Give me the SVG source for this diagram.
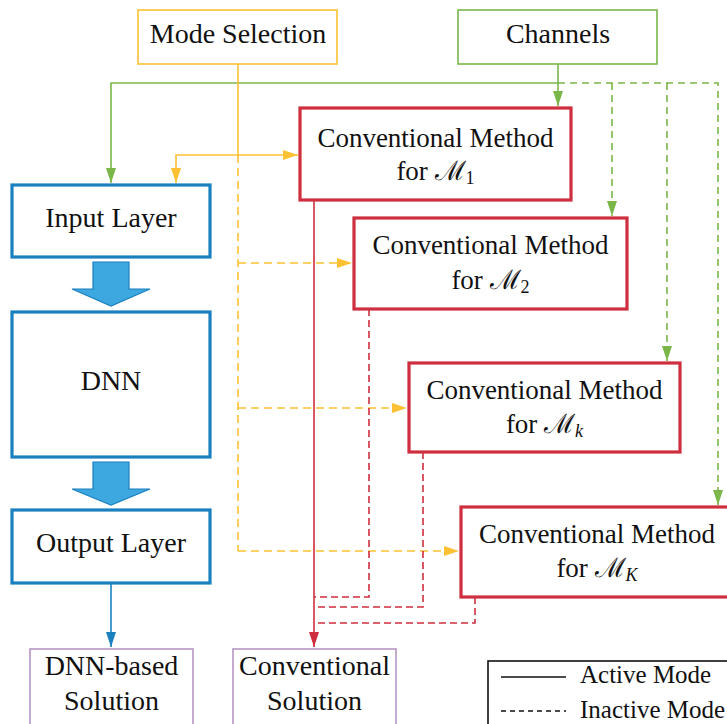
<svg xmlns="http://www.w3.org/2000/svg" width="727" height="724" viewBox="0 0 727 724">
<style>
text{fill:#111;text-anchor:middle}
.lt{text-anchor:start}
.ys{stroke:#FDC133;stroke-width:1.6;fill:none}
.yd{stroke:#FDC133;stroke-width:1.6;fill:none;stroke-dasharray:8 5}
.gs{stroke:#7AB648;stroke-width:1.6;fill:none}
.gd{stroke:#7AB648;stroke-width:1.6;fill:none;stroke-dasharray:7 5}
.rs{stroke:#CF2E3E;stroke-width:1.6;fill:none}
.rd{stroke:#CF2E3E;stroke-width:1.6;fill:none;stroke-dasharray:7 4}
.bs{stroke:#1A80C0;stroke-width:1.6;fill:none}
.top{fill:#fff;stroke-width:1.6}
.blue{fill:#fff;stroke:#1A80C0;stroke-width:3.2}
.red{fill:#fff;stroke:#CF2E3E;stroke-width:3.2}
.pur{fill:#fff;stroke:#B794C4;stroke-width:1.6}
.blk{fill:#3DA8DF;stroke:#1A80C0;stroke-width:1.2}
</style>
<defs>
<marker id="ay" markerUnits="userSpaceOnUse" markerWidth="16" markerHeight="11" refX="15" refY="5" orient="auto"><path d="M0,0 L15,5 L0,10 Z" fill="#FDC133"/></marker>
<marker id="ag" markerUnits="userSpaceOnUse" markerWidth="16" markerHeight="11" refX="15" refY="5" orient="auto"><path d="M0,0 L15,5 L0,10 Z" fill="#7AB648"/></marker>
<marker id="ar" markerUnits="userSpaceOnUse" markerWidth="16" markerHeight="11" refX="15" refY="5" orient="auto"><path d="M0,0 L15,5 L0,10 Z" fill="#CF2E3E"/></marker>
<marker id="ab" markerUnits="userSpaceOnUse" markerWidth="16" markerHeight="11" refX="15" refY="5" orient="auto"><path d="M0,0 L15,5 L0,10 Z" fill="#1A80C0"/></marker>
</defs>

<g id="connectors">
<path class="gs" d="M558,64 V83 H111 V183" marker-end="url(#ag)"/>
<path class="gs" d="M558,83 V106" marker-end="url(#ag)"/>
<path class="gd" d="M558,83 H718 V505" marker-end="url(#ag)"/>
<path class="gd" d="M612,83 V216" marker-end="url(#ag)"/>
<path class="gd" d="M667,83 V361" marker-end="url(#ag)"/>
<path class="ys" d="M238,64 V155"/>
<path class="ys" d="M238,155 H176 V183" marker-end="url(#ay)"/>
<path class="ys" d="M238,155 H298" marker-end="url(#ay)"/>
<path class="yd" d="M238,155 V551"/>
<path class="yd" d="M238,263 H352" marker-end="url(#ay)"/>
<path class="yd" d="M238,408 H407" marker-end="url(#ay)"/>
<path class="yd" d="M238,551 H459" marker-end="url(#ay)"/>
<path class="rs" d="M314,200 V647" marker-end="url(#ar)"/>
<path class="rd" d="M369,309 V597 H314"/>
<path class="rd" d="M423,452 V607 H314"/>
<path class="rd" d="M475,597 V623 H314"/>
<path class="bs" d="M111,583 V647" marker-end="url(#ab)"/>
<path class="blk" d="M93,262 H129 V289 H150 L111,306 L72,289 H93 Z"/>
<path class="blk" d="M93,462 H129 V489 H150 L111,505 L72,489 H93 Z"/>
</g>

<g font-family="Liberation Serif, Times New Roman, serif" font-size="28">
<g id="mode-selection">
<rect class="top" x="138" y="10" width="199" height="54" stroke="#FDC133"/>
<text x="238" y="43">Mode Selection</text>
</g>
<g id="channels">
<rect class="top" x="458" y="10" width="199" height="54" stroke="#7AB648"/>
<text x="558" y="43">Channels</text>
</g>

<g id="input-layer">
<rect class="blue" x="12" y="185" width="198" height="72"/>
<text x="111" y="227">Input Layer</text>
</g>
<g id="dnn">
<rect class="blue" x="12" y="312" width="198" height="145"/>
<text x="111" y="390">DNN</text>
</g>
<g id="output-layer">
<rect class="blue" x="12" y="510" width="198" height="73"/>
<text x="111" y="552">Output Layer</text>
</g>

<g id="method-1" font-size="27">
<rect class="red" x="300" y="108" width="271" height="92"/>
<text x="435.5" y="147">Conventional Method</text>
<text x="435.5" y="180">for ℳ<tspan font-size="18" dy="4">1</tspan></text>
</g>
<g id="method-2" font-size="27">
<rect class="red" x="354" y="218" width="273" height="91"/>
<text x="490.5" y="254">Conventional Method</text>
<text x="490.5" y="289">for ℳ<tspan font-size="18" dy="4">2</tspan></text>
</g>
<g id="method-k" font-size="27">
<rect class="red" x="409" y="363" width="271" height="89"/>
<text x="544.5" y="399">Conventional Method</text>
<text x="544.5" y="433">for ℳ<tspan font-size="18" font-style="italic" dy="4">k</tspan></text>
</g>
<g id="method-K" font-size="27">
<rect class="red" x="461" y="507" width="280" height="90"/>
<text x="597" y="543">Conventional Method</text>
<text x="597" y="577">for ℳ<tspan font-size="18" font-style="italic" dy="4">K</tspan></text>
</g>

<g id="dnn-solution">
<rect class="pur" x="30" y="649" width="163" height="90"/>
<text x="111.5" y="675">DNN-based</text>
<text x="111.5" y="710">Solution</text>
</g>
<g id="conv-solution">
<rect class="pur" x="233" y="649" width="163" height="90"/>
<text x="314.5" y="675">Conventional</text>
<text x="314.5" y="710">Solution</text>
</g>

<g id="legend">
<rect x="488" y="661" width="250" height="80" fill="#fff" stroke="#111" stroke-width="1.6"/>
<line x1="501" y1="677" x2="566" y2="677" stroke="#111" stroke-width="1.6"/>
<line x1="501" y1="711" x2="566" y2="711" stroke="#111" stroke-width="1.6" stroke-dasharray="5 4"/>
<text class="lt" x="580" y="683" font-size="25">Active Mode</text>
<text class="lt" x="580" y="718" font-size="25">Inactive Mode</text>
</g>
</g>
</svg>
